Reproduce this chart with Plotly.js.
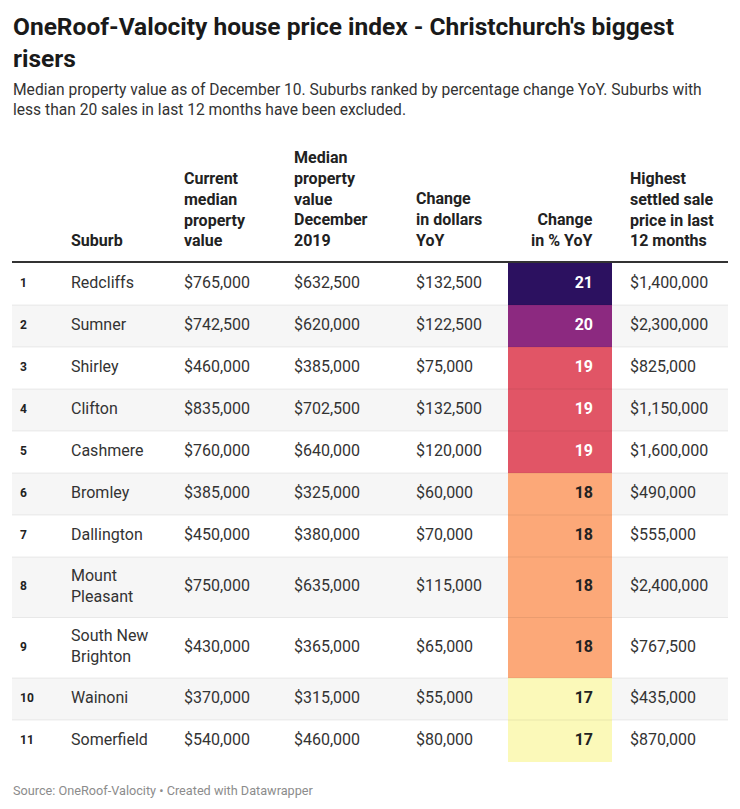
<!DOCTYPE html>
<html><head><meta charset="utf-8">
<script src="https://cdn.plot.ly/plotly-3.0.1.min.js"></script>
<style>html,body{margin:0;padding:0;background:#fff}</style>
</head><body><div id="chart" style="width:740px;height:809px"></div>
<script>
// ---------- data ----------
const ranks = [1, 2, 3, 4, 5, 6, 7, 8, 9, 10, 11];
const suburbs = ["Redcliffs", "Sumner", "Shirley", "Clifton", "Cashmere", "Bromley", "Dallington",
  "Mount<br>Pleasant", "South New<br>Brighton", "Wainoni", "Somerfield"];
const currentMedian = [765000, 742500, 460000, 835000, 760000, 385000, 450000, 750000, 430000, 370000, 540000];
const medianDec2019 = [632500, 620000, 385000, 702500, 640000, 325000, 380000, 635000, 365000, 315000, 460000];
const changeDollars = [132500, 122500, 75000, 132500, 120000, 60000, 70000, 115000, 65000, 55000, 80000];
const changePct = [21, 20, 19, 19, 19, 18, 18, 18, 18, 17, 17];
const highestSale = [1400000, 2300000, 825000, 1150000, 1600000, 490000, 555000, 2400000, 767500, 435000, 870000];
const headerLabels = ["Suburb", "Current<br>median<br>property<br>value", "Median<br>property<br>value<br>December<br>2019",
  "Change<br>in dollars<br>YoY", "Change<br>in % YoY", "Highest<br>settled sale<br>price in last<br>12 months"];

const titleText = "OneRoof-Valocity house price index - Christchurch's biggest<br>risers";
const subtitleText = "Median property value as of December 10. Suburbs ranked by percentage change YoY. Suburbs with<br>less than 20 sales in last 12 months have been excluded.";
const sourceText = "Source: OneRoof-Valocity • Created with Datawrapper";

// ---------- layout constants ----------
const W = 740, H = 809;
const LEFT = 12, RIGHT = 728;
const TABLE_TOP = 263, ROW_H = 42, LINE_EXTRA = 18.5;
const X_RANK = 20, X_SUBURB = 71, X_CUR = 184, X_DEC = 294, X_DOL = 416, X_PCT_L = 508, X_PCT_R = 611.5, X_PCT_TXT = 593, X_HIGH = 630;
const HEADER_BOTTOM = 252, ANN_PAD = 2;
const FONT = "Roboto, 'Open Sans', sans-serif";
const TXT = "#333333";

const fmt = v => "$" + v.toLocaleString("en-US");
const nLines = s => s.split("<br>").length;

// row edges and centres from the number of lines in each suburb label
const edges = [TABLE_TOP];
suburbs.forEach((s, i) => edges.push(edges[i] + ROW_H + (nLines(s) - 1) * LINE_EXTRA));
const centers = suburbs.map((s, i) => (edges[i] + edges[i + 1]) / 2);

function textTrace(x, texts, opts) {
  return Object.assign({
    type: "scatter", mode: "text", x: texts.map(() => x), y: centers, text: texts,
    textposition: "middle right", hoverinfo: "skip", showlegend: false,
    textfont: {family: FONT, size: 16, color: TXT}
  }, opts || {});
}

const traces = [
  {
    type: "heatmap", x: [X_PCT_L, X_PCT_R], y: edges, z: changePct.map(v => [v]),
    zmin: 17, zmax: 21, showscale: false, hoverinfo: "skip", zsmooth: false,
    colorscale: [[0, "#fbf9b9"], [0.25, "#fca878"], [0.5, "#e15566"], [0.75, "#8c2980"], [1, "#2c1160"]]
  },
  textTrace(X_RANK, ranks.map(String), {textfont: {family: FONT, size: 12, color: "#222", weight: 700}}),
  textTrace(X_SUBURB, suburbs),
  textTrace(X_CUR, currentMedian.map(fmt)),
  textTrace(X_DEC, medianDec2019.map(fmt)),
  textTrace(X_DOL, changeDollars.map(fmt)),
  textTrace(X_PCT_TXT, changePct.map(String), {
    textposition: "middle left",
    textfont: {family: FONT, size: 16, weight: 700, color: changePct.map(v => v >= 19 ? "#ffffff" : "#222222")}
  }),
  textTrace(X_HIGH, highestSale.map(fmt))
];

// shapes: shaded even rows, row separators, header rule
const shapes = [];
suburbs.forEach((s, i) => {
  if (i % 2 === 1) shapes.push({type: "rect", layer: "below", xref: "x", yref: "y", x0: LEFT, x1: RIGHT,
    y0: edges[i], y1: edges[i + 1], fillcolor: "#f6f6f6", line: {width: 0}});
  if (i > 0) shapes.push({type: "line", layer: "above", xref: "x", yref: "y", x0: LEFT, x1: RIGHT,
    y0: edges[i], y1: edges[i], line: {color: "rgba(0,0,0,0.07)", width: 1}});
});
shapes.push({type: "line", layer: "above", xref: "x", yref: "y", x0: LEFT, x1: RIGHT,
  y0: TABLE_TOP - 1, y1: TABLE_TOP - 1, line: {color: "#333333", width: 2}});

// header annotations (bottom aligned)
const headerX = [X_SUBURB, X_CUR, X_DEC, X_DOL, X_PCT_TXT, X_HIGH];
const annotations = headerLabels.map((t, i) => ({
  xref: "x", yref: "y", x: i === 4 ? headerX[i] + ANN_PAD : headerX[i] - ANN_PAD, y: HEADER_BOTTOM, text: t, showarrow: false,
  xanchor: i === 4 ? "right" : "left", yanchor: "bottom", align: i === 4 ? "right" : "left",
  font: {family: FONT, size: 16, weight: 700, color: "#222222"}
}));
annotations.push({xref: "x", yref: "y", x: LEFT - 1, y: 10, text: titleText, showarrow: false,
  xanchor: "left", yanchor: "top", align: "left", font: {family: FONT, size: 24.5, weight: 700, color: "#1a1a1a"}});
annotations.push({xref: "x", yref: "y", x: LEFT - 1, y: 79, text: subtitleText, showarrow: false,
  xanchor: "left", yanchor: "top", align: "left", font: {family: FONT, size: 15.6, color: "#333333"}});
annotations.push({xref: "x", yref: "y", x: LEFT - 1, y: 790, text: sourceText, showarrow: false,
  xanchor: "left", yanchor: "middle", align: "left", font: {family: FONT, size: 12.7, color: "#8c8c8c"}});

const layout = {
  width: W, height: H, margin: {l: 0, r: 0, t: 0, b: 0},
  paper_bgcolor: "#ffffff", plot_bgcolor: "#ffffff",
  xaxis: {range: [0, W], visible: false, fixedrange: true},
  yaxis: {range: [H, 0], visible: false, fixedrange: true},
  shapes: shapes, annotations: annotations, showlegend: false, hovermode: false
};

Plotly.newPlot("chart", traces, layout, {displayModeBar: false, staticPlot: true});
</script></body></html>
